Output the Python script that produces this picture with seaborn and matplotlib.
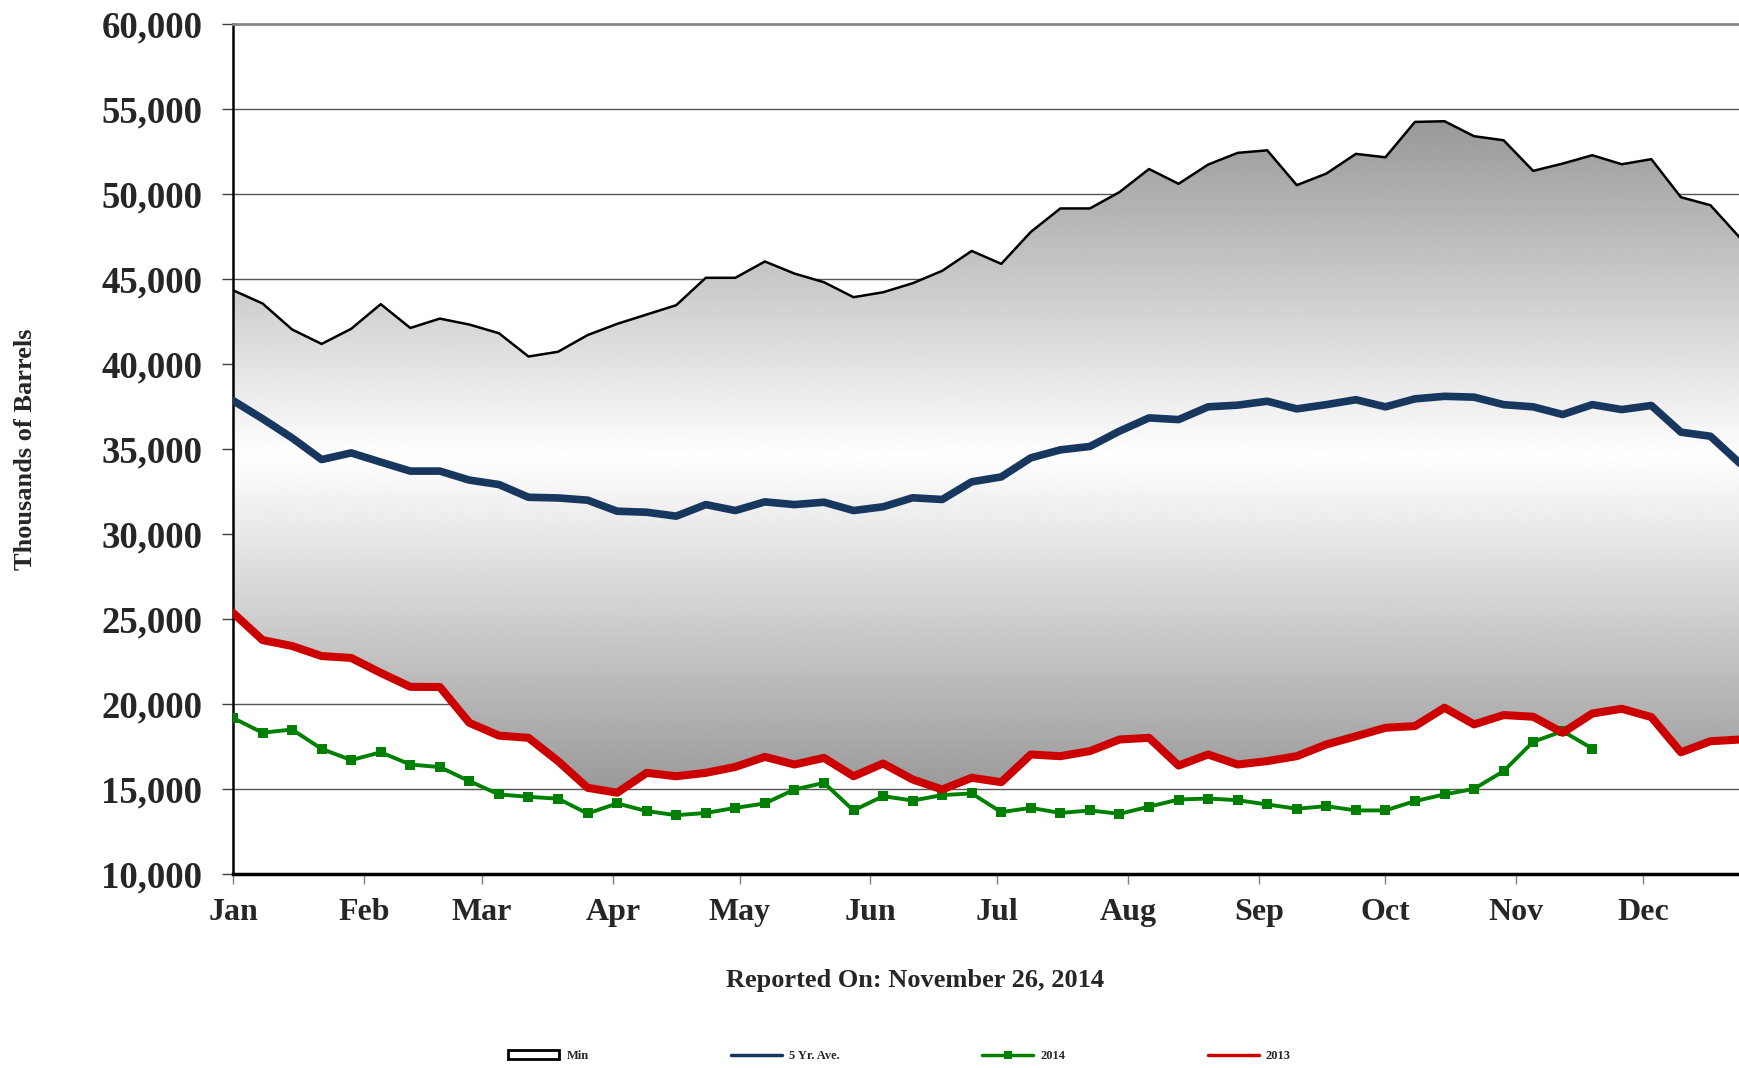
import numpy as np
import matplotlib
matplotlib.use("Agg")
import matplotlib.pyplot as plt
from matplotlib.patches import Patch
from matplotlib.lines import Line2D
from matplotlib.ticker import FuncFormatter
import seaborn as sns

# weekly points, day-of-year
days = np.arange(52) * 7
month_days = [0, 31, 59, 90, 120, 151, 181, 212, 243, 273, 304, 334]
month_labels = ['Jan', 'Feb', 'Mar', 'Apr', 'May', 'Jun',
                'Jul', 'Aug', 'Sep', 'Oct', 'Nov', 'Dec']

max_vals = [44340, 43560, 42030, 41180, 42070, 43520, 42120, 42670, 42320, 41810,
            40440, 40720, 41700, 42360, 42910, 43460, 45070, 45070, 46030, 45320,
            44810, 43930, 44220, 44750, 45480, 46650, 45890, 47770, 49150, 49150,
            50110, 51470, 50600, 51730, 52420, 52570, 50520, 51200, 52360, 52160,
            54240, 54280, 53400, 53160, 51360, 51790, 52280, 51750, 52050, 49810,
            49340, 47420]

avg_5yr = [37850, 36780, 35650, 34380, 34770, 34230, 33700, 33700, 33170, 32910,
           32160, 32120, 31990, 31340, 31280, 31050, 31730, 31380, 31890, 31730,
           31870, 31380, 31600, 32130, 32030, 33070, 33360, 34480, 34950, 35150,
           36050, 36830, 36730, 37480, 37580, 37810, 37360, 37610, 37900, 37480,
           37950, 38100, 38050, 37610, 37480, 37030, 37610, 37320, 37560, 35990,
           35750, 34150]

y2013 = [25360, 23760, 23410, 22820, 22710, 21830, 21010, 21000, 18890, 18140,
         18010, 16640, 15070, 14780, 15950, 15750, 15950, 16300, 16890, 16440,
         16830, 15750, 16500, 15560, 14970, 15660, 15400, 17030, 16930, 17230,
         17910, 18010, 16380, 17030, 16440, 16640, 16930, 17620, 18100, 18600,
         18700, 19780, 18800, 19350, 19250, 18310, 19440, 19720, 19230, 17160,
         17810, 17910]

y2014 = [19180, 18310, 18500, 17360, 16700, 17160, 16440, 16290, 15460, 14680,
         14540, 14430, 13560, 14150, 13700, 13460, 13590, 13890, 14150, 14970,
         15360, 13740, 14580, 14320, 14640, 14740, 13640, 13890, 13590, 13740,
         13540, 13960, 14380, 14440, 14340, 14090, 13840, 13990, 13740, 13740,
         14290, 14680, 15010, 16050, 17780, 18400, 17380]

# lower edge of the min/max band follows the 2013 line
min_vals = list(y2013)

sns.set_style("white")
plt.rcParams['font.family'] = ['Liberation Serif', 'DejaVu Serif']
plt.rcParams['font.weight'] = 'bold'

fig = plt.figure(figsize=(17.4, 10.68), dpi=100)
ax = fig.add_axes([233 / 1740, 1 - 874 / 1068, 1 - 233 / 1740, 850 / 1068])

# gradient band between min and max
band = ax.fill_between(days, min_vals, max_vals, facecolor='none', edgecolor='none')
lo, hi = min(min_vals), max(max_vals)
t = np.linspace(-1, 1, 400)
shade = 1 - 0.4 * np.abs(t)
img = np.tile(shade[:, None], (1, 2))
im = ax.imshow(img, extent=[days[0], days[-1], lo, hi], origin='lower', cmap='gray',
               vmin=0, vmax=1, aspect='auto', zorder=1, interpolation='bilinear')
im.set_clip_path(band.get_paths()[0], transform=ax.transData)

sns.lineplot(x=days, y=max_vals, color='black', lw=1.8, ax=ax, zorder=3)
sns.lineplot(x=days, y=avg_5yr, color='#17375E', lw=5.5, ax=ax, zorder=4)
sns.lineplot(x=days[:len(y2014)], y=y2014, color='#008000', lw=2.8, marker='s',
             markersize=7.5, markeredgewidth=0, ax=ax, zorder=5)
sns.lineplot(x=days, y=y2013, color='#CC0000', lw=5.8, ax=ax, zorder=6)

ax.set_xlim(0, 357)
ax.set_ylim(10000, 60000)
ax.set_yticks(np.arange(10000, 60001, 5000))
ax.yaxis.set_major_formatter(FuncFormatter(lambda v, p: f'{v:,.0f}'))
ax.set_xticks(month_days)
ax.set_xticklabels(month_labels)

ax.set_axisbelow(True)
ax.yaxis.grid(True, color='#555555', lw=1.0)
ax.xaxis.grid(False)

ax.spines['right'].set_visible(False)
ax.spines['top'].set_color('#888888')
ax.spines['top'].set_linewidth(2)
ax.spines['left'].set_color('black')
ax.spines['left'].set_linewidth(1.8)
ax.spines['bottom'].set_color('black')
ax.spines['bottom'].set_linewidth(2.5)

ax.tick_params(axis='y', left=True, length=8, width=1, color='#404040', pad=14,
               labelsize=26.5)
ax.tick_params(axis='x', bottom=True, length=7, width=1, color='#808080', pad=10,
               labelsize=23)
for lab in ax.get_xticklabels() + ax.get_yticklabels():
    lab.set_fontweight('bold')

ax.set_xlabel('')
ax.set_ylabel('Thousands of Barrels', fontsize=19, fontweight='bold')
ax.yaxis.set_label_coords(-0.13, 0.5)

fig.text(0.526, 1 - 981 / 1068, 'Reported On: November 26, 2014', ha='center',
         va='center', fontsize=19, fontweight='bold')

handles = [
    Patch(facecolor='white', edgecolor='black', linewidth=2),
    Line2D([], [], color='#17375E', lw=2.5),
    Line2D([], [], color='#008000', lw=2.5, marker='s', markersize=6, markeredgewidth=0),
    Line2D([], [], color='#CC0000', lw=2.5),
]
labels = ['Min', '5 Yr. Ave.', '2014', '2013']
fig.legend(handles, labels, loc='center', bbox_to_anchor=(0.517, 1 - 1056 / 1068),
           ncol=4, frameon=False, prop={'size': 9, 'weight': 'bold'},
           handlelength=4.1, columnspacing=11.4, handletextpad=0.55)

fig.savefig('out.png', dpi=100)
